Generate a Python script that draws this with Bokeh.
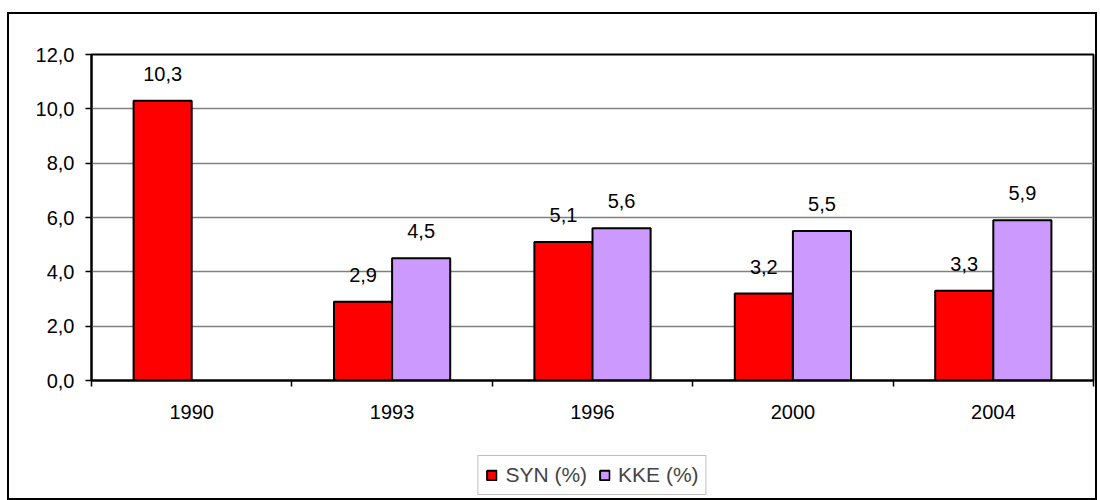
from bokeh.plotting import figure
from bokeh.layouts import column
from bokeh.models import ColumnDataSource, FixedTicker, LabelSet, Legend, LegendItem, Range1d
from bokeh.core.properties import value
from bokeh.embed import file_html
from bokeh.resources import INLINE

years = ["1990", "1993", "1996", "2000", "2004"]
syn = [10.3, 2.9, 5.1, 3.2, 3.3]
kke = [None, 4.5, 5.6, 5.5, 5.9]
series_names = ["SYN (%)", "KKE (%)"]
colors = ["#FF0000", "#CC99FF"]
y_ticks = [0, 2, 4, 6, 8, 10, 12]

FONT = "Liberation Sans"
FS = "20px"
BW = 0.29


def fmt(v):
    return f"{v:.1f}".replace(".", ",")


def make_source(vals, offset):
    xs, tops, labels = [], [], []
    for i, v in enumerate(vals):
        if v is None:
            continue
        xs.append(i + 0.5 + offset)
        tops.append(v)
        labels.append(fmt(v))
    return ColumnDataSource(dict(x=xs, top=tops, label=labels))


p = figure(width=1086, height=426, output_backend="svg", toolbar_location=None,
           x_range=Range1d(0, len(years)), y_range=Range1d(0, 12),
           min_border_left=82, min_border_right=2, min_border_top=40, min_border_bottom=60)
p.background_fill_color = "white"
p.border_fill_color = "white"
p.outline_line_color = "black"
p.outline_line_width = 2

src_syn = make_source(syn, -BW / 2)
src_kke = make_source(kke, BW / 2)

bar_style = [dict(fill_color=colors[0], line_color="black", line_width=2),
             dict(fill_color=colors[1], line_color="black", line_width=2)]

p.vbar(x="x", top="top", width=BW, bottom=0, source=src_syn, **bar_style[0])
p.vbar(x="x", top="top", width=BW, bottom=0, source=src_kke, **bar_style[1])

for src in (src_syn, src_kke):
    p.add_layout(LabelSet(x="x", y="top", text="label", source=src, text_align="center",
                          text_baseline="alphabetic", y_offset=20, text_font=value(FONT),
                          text_font_size=value(FS), text_color="black"))

# grid
p.xgrid.visible = False
p.ygrid.ticker = FixedTicker(ticks=y_ticks)
p.ygrid.grid_line_color = "#808080"
p.ygrid.grid_line_width = 1.5

# y axis
p.yaxis.ticker = FixedTicker(ticks=y_ticks)
p.yaxis.major_label_overrides = {t: fmt(t) for t in y_ticks}
p.yaxis.axis_line_color = "black"
p.yaxis.axis_line_width = 2
p.yaxis.major_tick_line_color = "black"
p.yaxis.major_tick_line_width = 1.5
p.yaxis.major_tick_out = 6
p.yaxis.major_tick_in = 0
p.yaxis.minor_tick_line_color = None
p.yaxis.major_label_standoff = 11
p.yaxis.major_label_text_font = FONT
p.yaxis.major_label_text_font_size = FS
p.yaxis.major_label_text_color = "black"

# x axis
p.xaxis.ticker = FixedTicker(ticks=[i + 0.5 for i in range(len(years))],
                             minor_ticks=list(range(len(years) + 1)))
p.xaxis.major_label_overrides = {i + 0.5: y for i, y in enumerate(years)}
p.xaxis.axis_line_color = "black"
p.xaxis.axis_line_width = 2
p.xaxis.major_tick_line_color = None
p.xaxis.major_tick_out = 0
p.xaxis.major_tick_in = 0
p.xaxis.minor_tick_line_color = "black"
p.xaxis.minor_tick_line_width = 1.5
p.xaxis.minor_tick_out = 6
p.xaxis.minor_tick_in = 0
p.xaxis.major_label_standoff = 18
p.xaxis.major_label_text_font = FONT
p.xaxis.major_label_text_font_size = FS
p.xaxis.major_label_text_color = "black"

# legend strip below the chart (same horizontal frame as the chart).
# Its key renderers share the data, but very wide ranges shrink them to a
# sub-pixel point hidden behind the opaque legend box.
pl = figure(width=1086, height=58, output_backend="svg", toolbar_location=None,
            x_range=Range1d(2.5 - 50000, 2.5 + 50000), y_range=Range1d(-22000, 36000),
            x_axis_location=None, y_axis_location=None,
            min_border_left=82, min_border_right=2, min_border_top=0, min_border_bottom=0)
pl.grid.visible = False
pl.outline_line_color = None
pl.background_fill_color = "white"
pl.border_fill_color = "white"
k1 = pl.vbar(x="x", top="top", width=BW, bottom=0, source=src_syn, **bar_style[0])
k2 = pl.vbar(x="x", top="top", width=BW, bottom=0, source=src_kke, **bar_style[1])

legend = Legend(items=[LegendItem(label=series_names[0], renderers=[k1]),
                       LegendItem(label=series_names[1], renderers=[k2])],
                orientation="horizontal", location="top_center",
                label_text_font=FONT, label_text_font_size="21px",
                glyph_width=12, glyph_height=12, label_standoff=8, spacing=11,
                padding=7, margin=15,
                border_line_color="#808080", border_line_width=1.5,
                background_fill_color="white", background_fill_alpha=1)
pl.add_layout(legend, "center")

layout = column(p, pl, spacing=0,
                styles={"border": "2px solid black", "margin-left": "7px", "margin-top": "12px"})

open("out.html", "w").write(file_html(layout, INLINE))
